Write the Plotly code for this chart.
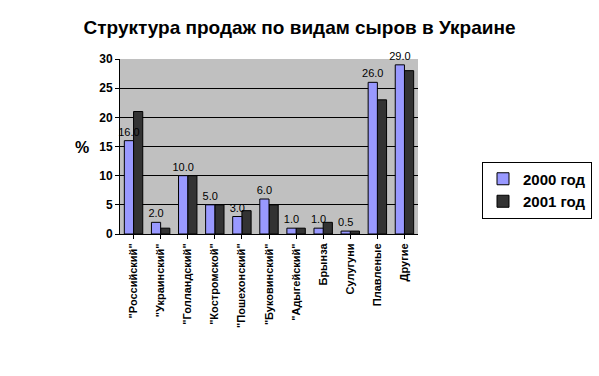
import plotly.graph_objects as go

categories = ['"Российский"', '"Украинский"', '"Голландский"', '"Костромской"',
              '"Пошехонский"', '"Буковинский"', '"Адыгейский"', 'Брынза',
              'Сулугуни', 'Плавленые', 'Другие']
values_2000 = [16.0, 2.0, 10.0, 5.0, 3.0, 6.0, 1.0, 1.0, 0.5, 26.0, 29.0]
values_2001 = [21.0, 1.0, 10.0, 5.0, 4.0, 5.0, 1.0, 2.0, 0.5, 23.0, 28.0]
y_ticks = [0, 5, 10, 15, 20, 25, 30]

FONT = "Liberation Sans, Arial, sans-serif"
BW = 0.34

fig = go.Figure()
# 2001 drawn first so that the 2000 value labels stay on top
fig.add_trace(go.Bar(
    x=categories, y=values_2001, name="<b>2001 год</b>",
    width=BW, offset=0.0,
    marker=dict(color="#333333", line=dict(color="#000000", width=1)),
))
fig.add_trace(go.Bar(
    x=categories, y=values_2000, name="<b>2000 год</b>",
    width=BW, offset=-BW,
    marker=dict(color="#9999FF", line=dict(color="#000000", width=1)),
    text=[f"{v:.1f}" for v in values_2000], textposition="outside",
    textfont=dict(family=FONT, size=11, color="#000000"),
    constraintext="none", cliponaxis=False,
))

fig.update_layout(
    width=599, height=376,
    margin=dict(l=120, r=181, t=59, b=142, autoexpand=False),
    paper_bgcolor="#FFFFFF", plot_bgcolor="#C0C0C0",
    barmode="overlay",
    title=dict(text="<b>Структура продаж по видам сыров в Украине</b>",
               x=0.5, xref="container", xanchor="center",
               y=1 - 27 / 376, yref="container", yanchor="middle",
               font=dict(family=FONT, size=19, color="#000000")),
    font=dict(family=FONT, color="#000000"),
    showlegend=True,
    legend=dict(x=592 / 599, y=1 - 190 / 376, xref="container", yref="container",
                xanchor="right", yanchor="middle", traceorder="reversed",
                bordercolor="#000000", borderwidth=1, bgcolor="#FFFFFF",
                font=dict(family=FONT, size=15, color="#000000"),
                itemwidth=30, tracegroupgap=2),
)
fig.update_xaxes(
    tickvals=categories, ticktext=[f"<b>{c}</b>" for c in categories],
    tickangle=-90, tickfont=dict(family=FONT, size=11, color="#000000"),
    showline=True, linecolor="#000000", linewidth=1,
    ticks="outside", ticklen=4, tickcolor="#000000",
    showgrid=False, automargin=False,
)
fig.update_yaxes(
    range=[0, 30], tickvals=y_ticks, ticktext=[f"<b>{v}</b>" for v in y_ticks],
    tickfont=dict(family=FONT, size=12, color="#000000"),
    showline=True, linecolor="#000000", linewidth=1,
    ticks="outside", ticklen=4, tickcolor="#000000",
    showgrid=True, gridcolor="#000000", gridwidth=1,
    zeroline=False, automargin=False,
)
fig.add_annotation(text="<b>%</b>", x=(82 - 120) / 298, xref="paper",
                   y=(234 - 147) / 175, yref="paper", showarrow=False,
                   xanchor="center", yanchor="middle",
                   font=dict(family=FONT, size=16, color="#000000"))
fig.write_html("out.html", config={"displayModeBar": False},
               post_script="document.body.style.margin='0';document.body.style.overflow='hidden';")
